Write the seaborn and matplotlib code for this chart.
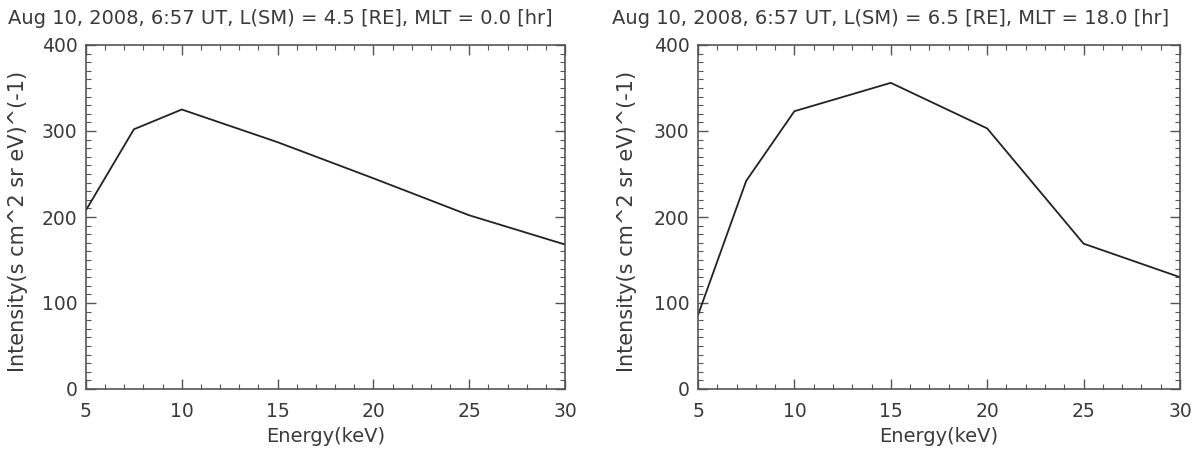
import matplotlib
matplotlib.use("Agg")
import matplotlib.pyplot as plt
from matplotlib.ticker import MultipleLocator
import seaborn as sns
import pandas as pd

energy = [5, 7.5, 10, 15, 20, 25, 30]
intensity_left = [208, 302, 325, 287, 245, 202, 168]
intensity_right = [86, 242, 323, 356, 303, 169, 130]
titles = [
    "Aug 10, 2008, 6:57 UT, L(SM) = 4.5 [RE], MLT = 0.0 [hr]",
    "Aug 10, 2008, 6:57 UT, L(SM) = 6.5 [RE], MLT = 18.0 [hr]",
]
xlabel = "Energy(keV)"
ylabel = "Intensity(s cm^2 sr eV)^(-1)"

sns.set_theme(style="white")
plt.rcParams["font.family"] = ["DejaVu Sans"]

TXT = "#3a3a3a"
SPINE = "#555555"

fig = plt.figure(figsize=(12.04, 4.49), dpi=100)
W, H = 1204, 449
boxes = [(86, 45, 565, 389), (698, 45, 1180, 389)]
title_x = [8, 612]
ylabel_x = [18, 627]

for i, (vals, box) in enumerate(zip([intensity_left, intensity_right], boxes)):
    x0, y0, x1, y1 = box
    ax = fig.add_axes([x0 / W, 1 - y1 / H, (x1 - x0) / W, (y1 - y0) / H])
    df = pd.DataFrame({"energy": energy, "intensity": vals})
    sns.lineplot(data=df, x="energy", y="intensity", ax=ax, color="#222222",
                 linewidth=1.3, estimator=None, sort=False)
    ax.set_xlim(5, 30)
    ax.set_ylim(0, 400)
    ax.xaxis.set_major_locator(MultipleLocator(5))
    ax.xaxis.set_minor_locator(MultipleLocator(1))
    ax.yaxis.set_major_locator(MultipleLocator(100))
    ax.yaxis.set_minor_locator(MultipleLocator(10))
    ax.tick_params(which="both", direction="in", top=True, right=True,
                   bottom=True, left=True, color=SPINE, labelcolor=TXT,
                   labelsize=13.5)
    ax.tick_params(which="major", length=7, width=1.0)
    ax.tick_params(axis="x", which="major", pad=9.5)
    ax.tick_params(axis="y", which="major", pad=6)
    ax.tick_params(which="minor", length=3.5, width=0.8)
    for s in ax.spines.values():
        s.set_color(SPINE)
        s.set_linewidth(1.2)
    ax.set_xlabel("")
    ax.set_ylabel("")
    ax.set_facecolor("white")
    fig.text(title_x[i] / W, 1 - 19 / H, titles[i], ha="left", va="center",
             fontsize=14, color=TXT)
    fig.text(((x0 + x1) / 2) / W, 1 - 437 / H, xlabel, ha="center",
             va="center", fontsize=14, color=TXT)
    fig.text(ylabel_x[i] / W, 1 - 221 / H, ylabel, ha="center", va="center",
             rotation=90, fontsize=15, color=TXT)

fig.savefig("out.png", dpi=100, facecolor="white")
